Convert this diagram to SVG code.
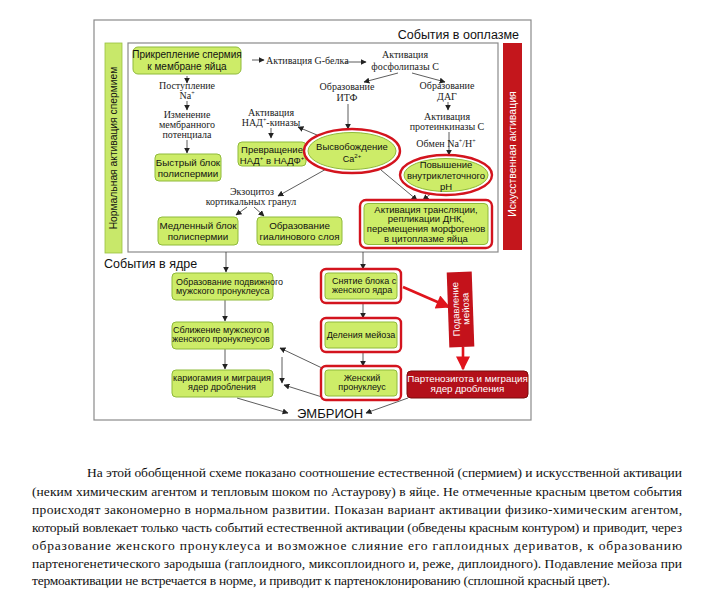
<svg xmlns="http://www.w3.org/2000/svg" width="708" height="607" viewBox="0 0 708 607">
<defs>
<style>
.frame{fill:none;stroke:#8a8a8a;stroke-width:1.2}
.g{fill:#cdec68;stroke:#8fba3a;stroke-width:1}
.ring{fill:#fff;stroke:#d3141e;stroke-width:2.4}
.s{font-family:"Liberation Sans",Arial,sans-serif;fill:#111}
.t{font-family:"Liberation Serif","Times New Roman",serif;fill:#222;font-size:10px}
.c{text-anchor:middle}
.w{fill:#fff}
.a{fill:none;stroke:#333;stroke-width:0.8;marker-end:url(#ah)}
.ra{fill:none;stroke:#e0141c;stroke-width:2.6;marker-end:url(#rh)}
.p{font-family:"Liberation Serif","Times New Roman",serif;font-size:13.5px;fill:#111}
</style>
<marker id="ah" viewBox="0 0 10 10" refX="9" refY="5" markerWidth="6" markerHeight="6" markerUnits="userSpaceOnUse" orient="auto"><path d="M0,0 L10,5 L0,10 z" fill="#222"/></marker>
<marker id="rh" viewBox="0 0 10 10" refX="9" refY="5" markerWidth="16" markerHeight="14" markerUnits="userSpaceOnUse" orient="auto"><path d="M0,0 L10,5 L0,10 z" fill="#e0141c"/></marker>
</defs>
<rect width="708" height="607" fill="#fff"/>

<g id="frames">
<rect class="frame" x="94" y="20" width="437" height="400"/>
<rect class="frame" x="128" y="43" width="370" height="209" stroke-width="1"/>
<text class="s" x="519" y="39" font-size="12.5" text-anchor="end">События в ооплазме</text>
<text class="s" x="104" y="268" font-size="12.5">События в ядре</text>
</g>

<g id="bar-normal">
<rect x="105" y="43" width="17" height="210" fill="#c8e86a" stroke="#98c040" stroke-width="0.8"/>
<text class="s c" transform="translate(117,148) rotate(-90)" font-size="10.3">Нормальная активация спермием</text>
</g>

<g id="bar-artificial">
<rect x="503" y="43" width="19" height="207" fill="#c4161c"/>
<text class="s c w" transform="translate(516,154) rotate(-90)" font-size="10.5">Искусственная активация</text>
</g>

<g id="connectors">
<path class="a" d="M252,60 L264,60"/>
<path class="a" d="M345,62 L366,62"/>
<path class="a" d="M398,73 L364,82"/>
<path class="a" d="M412,73 L445,82"/>
<path class="a" d="M348,104 L348,129"/>
<path class="a" d="M448,102 L448,110"/>
<path class="a" d="M449,132 L449,155"/>
<path class="a" d="M271,128 L271,138"/>
<path class="a" d="M317,135 L298,127"/>
<path class="a" d="M187,76 L187,83"/>
<path class="a" d="M187,101 L187,110"/>
<path class="a" d="M187,140 L187,153"/>
<path class="a" d="M328,168 L278,196"/>
<path class="a" d="M247,207 L236,215"/>
<path class="a" d="M254,207 L264,216"/>
<path class="a" d="M381,170 L417,200"/>
<path class="a" d="M433,192 L423,200"/>
<path class="a" d="M226,252 L226,272"/>
<path class="a" d="M363,252 L363,269"/>
<path class="a" d="M225,300 L225,321" stroke="#666"/>
<path class="a" d="M225,349 L225,369"/>
<path class="a" d="M237,398 L288,413"/>
<path class="a" d="M363,303 L363,318"/>
<path class="a" d="M363,352 L363,366"/>
<path class="a" d="M322,368 L280,348"/>
<path class="a" d="M282,357 L282,383"/>
<path class="a" d="M322,397 L284,385"/>
<path class="a" d="M408,398 L366,413"/>
<path class="ra" d="M403,287 L449,307"/>
<path class="ra" d="M463,347 L463,369"/>
</g>

<g id="n-attach">
<rect class="g" x="133" y="47" width="108" height="27" rx="5"/>
<text class="s c" x="187" y="58" font-size="10">Прикрепление спермия</text>
<text class="s c" x="187" y="70" font-size="10">к мембране яйца</text>
</g>
<g id="n-gprotein"><text class="t" x="266" y="64">Активация G-белка</text></g>
<g id="n-plc"><text class="t c" x="405" y="58">Активация</text><text class="t c" x="405" y="70">фосфолипазы С</text></g>
<g id="n-itf"><text class="t c" x="347" y="90">Образование</text><text class="t c" x="347" y="101">ИТФ</text></g>
<g id="n-dag"><text class="t c" x="447" y="89">Образование</text><text class="t c" x="447" y="100">ДАГ</text></g>
<g id="n-pkc"><text class="t c" x="447" y="120">Активация</text><text class="t c" x="447" y="130">протеинкиназы С</text></g>
<g id="n-exchange"><text class="t c" x="446" y="147">Обмен Na<tspan font-size="6" dy="-4">+</tspan><tspan dy="4">/H</tspan><tspan font-size="6" dy="-4">+</tspan></text></g>
<g id="n-nadk"><text class="t c" x="271" y="116">Активация</text><text class="t c" x="271" y="126">НАД<tspan font-size="6" dy="-4">+</tspan><tspan dy="4">-киназы</tspan></text></g>
<g id="n-nadp">
<rect class="g" x="238" y="142" width="68" height="24" rx="4"/>
<text class="s c" x="272" y="153" font-size="9.5">Превращение</text>
<text class="s c" x="272" y="164" font-size="9.5">НАД<tspan font-size="6" dy="-4">+</tspan><tspan dy="4"> в НАДФ</tspan><tspan font-size="6" dy="-4">+</tspan></text>
</g>
<g id="n-ca">
<ellipse class="ring" cx="352" cy="151" rx="48" ry="22"/>
<ellipse class="g" cx="352" cy="151" rx="44" ry="18.5"/>
<text class="s c" x="352" y="150" font-size="9.5">Высвобождение</text>
<text class="s c" x="352" y="162" font-size="9">Ca<tspan font-size="6" dy="-4">2+</tspan></text>
</g>
<g id="n-ph">
<ellipse class="ring" cx="446" cy="175" rx="46" ry="20"/>
<ellipse class="g" cx="446" cy="175" rx="42" ry="16.5"/>
<text class="s c" x="446" y="167.5" font-size="9.5">Повышение</text>
<text class="s c" x="446" y="178.5" font-size="9.5">внутриклеточного</text>
<text class="s c" x="446" y="189.5" font-size="9.5">pH</text>
</g>
<g id="n-na"><text class="t c" x="187" y="89">Поступление</text><text class="t c" x="187" y="99">Na<tspan font-size="6" dy="-4">+</tspan></text></g>
<g id="n-potential"><text class="t c" x="187" y="118">Изменение</text><text class="t c" x="187" y="128">мембранного</text><text class="t c" x="187" y="138">потенциала</text></g>
<g id="n-fastblock">
<rect class="g" x="155" y="154" width="66" height="27" rx="4"/>
<text class="s c" x="188" y="166" font-size="9.8">Быстрый блок</text>
<text class="s c" x="188" y="177" font-size="9.8">полиспермии</text>
</g>
<g id="n-exocytosis"><text class="t c" x="252" y="195">Экзоцитоз</text><text class="t c" x="251" y="205">кортикальных гранул</text></g>
<g id="n-slowblock">
<rect class="g" x="158" y="217" width="80" height="28" rx="4"/>
<text class="s c" x="198" y="229" font-size="9.8">Медленный блок</text>
<text class="s c" x="198" y="240" font-size="9.8">полиспермии</text>
</g>
<g id="n-hyaline">
<rect class="g" x="257" y="217" width="85" height="28" rx="4"/>
<text class="s c" x="299.5" y="229" font-size="9.8">Образование</text>
<text class="s c" x="299.5" y="240" font-size="9.8">гиалинового слоя</text>
</g>
<g id="n-translation">
<rect class="ring" x="360" y="200" width="132" height="48" rx="6"/>
<rect class="g" x="364" y="203.5" width="124" height="41" rx="4"/>
<text class="s c" x="426" y="212.5" font-size="9.5">Активация трансляции,</text>
<text class="s c" x="426" y="222.3" font-size="9.5">репликации ДНК,</text>
<text class="s c" x="426" y="232.1" font-size="9.5">перемещения морфогенов</text>
<text class="s c" x="426" y="241.9" font-size="9.5">в цитоплазме яйца</text>
</g>

<g id="n-malepn">
<rect class="g" x="172" y="273" width="101" height="27" rx="4"/>
<text class="s" x="176" y="285" font-size="9">Образование подвижного</text>
<text class="s" x="176" y="294" font-size="9">мужского пронуклеуса</text>
</g>
<g id="n-approach">
<rect class="g" x="172" y="322" width="101" height="27" rx="4"/>
<text class="s c" x="221" y="333" font-size="9">Сближение мужского и</text>
<text class="s c" x="221" y="342" font-size="9">женского пронуклеусов</text>
</g>
<g id="n-karyogamy">
<rect class="g" x="172" y="370" width="101" height="27" rx="4"/>
<text class="s c" x="222" y="381" font-size="9">кариогамия и миграция</text>
<text class="s c" x="222" y="390" font-size="9">ядер дробления</text>
</g>
<g id="n-embryo"><text class="s" x="297" y="418" font-size="13">ЭМБРИОН</text></g>

<g id="n-unblock">
<rect class="ring" x="321" y="269" width="80" height="34" rx="5"/>
<rect class="g" x="325" y="273" width="72" height="26" rx="3"/>
<text class="s" x="332" y="284" font-size="9">Снятие блока с</text>
<text class="s" x="332" y="293" font-size="9">женского ядра</text>
</g>
<g id="n-meiosis">
<rect class="ring" x="321" y="318" width="80" height="34" rx="5"/>
<rect class="g" x="325" y="322" width="72" height="26" rx="3"/>
<text class="s c" x="361" y="338" font-size="9">Деления мейоза</text>
</g>
<g id="n-femalepn">
<rect class="ring" x="321" y="366" width="80" height="34" rx="5"/>
<rect class="g" x="325" y="370" width="72" height="26" rx="3"/>
<text class="s c" x="362" y="381" font-size="9">Женский</text>
<text class="s c" x="362" y="390" font-size="9">пронуклеус</text>
</g>
<g id="n-suppress" transform="rotate(-2,460,309)">
<rect x="448" y="272" width="25" height="75" fill="#c4121b"/>
<text class="s c w" transform="translate(459,309) rotate(-90)" font-size="9.5">Подавление</text>
<text class="s c w" transform="translate(469,309) rotate(-90)" font-size="9.5">мейоза</text>
</g>
<g id="n-parthenozygote">
<rect x="407" y="371" width="121" height="27" rx="4" fill="#b3101a" stroke="#7a0a0a" stroke-width="1"/>
<text class="s c w" x="467.5" y="381.5" font-size="9.8">Партенозигота и миграция</text>
<text class="s c w" x="467.5" y="391.5" font-size="9.8">ядер дробления</text>
</g>

<g id="caption">
<text class="p" x="87" y="477" textLength="595" lengthAdjust="spacing">На этой обобщенной схеме показано соотношение естественной (спермием) и искусственной активации</text>
<text class="p" x="32" y="495.5" textLength="650" lengthAdjust="spacing">(неким химическим агентом и тепловым шоком по Астаурову) в яйце. Не отмеченные красным цветом события</text>
<text class="p" x="32" y="514" textLength="650" lengthAdjust="spacing">происходят закономерно в нормальном развитии. Показан вариант активации физико-химическим агентом,</text>
<text class="p" x="32" y="532" textLength="650" lengthAdjust="spacing">который вовлекает только часть событий естественной активации (обведены красным контуром) и приводит, через</text>
<text class="p" x="32" y="550" textLength="650" lengthAdjust="spacing">образование женского пронуклеуса и возможное слияние его гаплоидных дериватов, к образованию</text>
<text class="p" x="32" y="567.5" textLength="650" lengthAdjust="spacing">партеногенетического зародыша (гаплоидного, миксоплоидного и, реже, диплоидного). Подавление мейоза при</text>
<text class="p" x="32" y="585" textLength="578" lengthAdjust="spacing">термоактивации не встречается в норме, и приводит к партеноклонированию (сплошной красный цвет).</text>
</g>
</svg>
